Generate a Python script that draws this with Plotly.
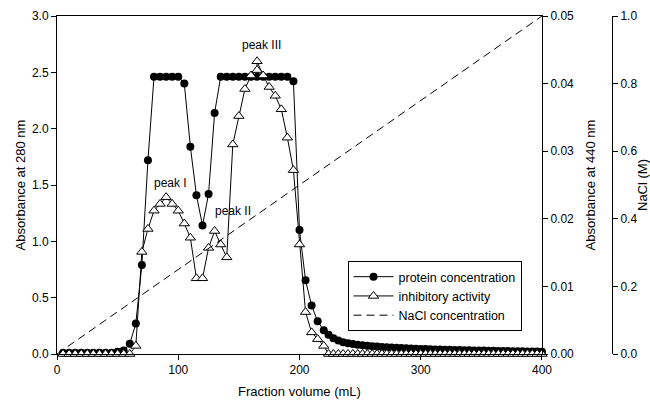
import plotly.graph_objects as go

# ---------------- data ----------------
protein_x = [5, 10, 15, 20, 25, 30, 35, 40, 45, 50, 55, 60, 65, 70, 75, 80, 85, 90, 95, 100,
             105, 110, 115, 120, 125, 130, 135, 140, 145, 150, 155, 160, 165, 170, 175, 180,
             185, 190, 195, 200, 205, 210, 215, 220,
             224, 228, 232, 236, 240, 244, 248, 252, 256, 260, 264, 268, 272, 276, 280, 284,
             288, 292, 296, 300, 304, 308, 312, 316, 320, 324, 328, 332, 336, 340, 344, 348,
             352, 356, 360, 364, 368, 372, 376, 380, 384, 388, 392, 396, 400]
protein_y = [0.01, 0.01, 0.01, 0.01, 0.01, 0.01, 0.01, 0.01, 0.01, 0.02, 0.03, 0.09, 0.27, 0.79,
             1.72, 2.46, 2.46, 2.46, 2.46, 2.46,
             2.40, 1.84, 1.41, 1.14, 1.42, 2.14, 2.46, 2.46, 2.46, 2.46, 2.46, 2.46, 2.46, 2.46,
             2.46, 2.46, 2.46, 2.46, 2.42, 1.10, 0.655, 0.43, 0.29, 0.21,
             0.17, 0.14, 0.12, 0.105, 0.095, 0.088, 0.082, 0.077, 0.073, 0.069, 0.066, 0.063,
             0.060, 0.057, 0.055, 0.053, 0.051, 0.049, 0.047, 0.045, 0.044, 0.042, 0.041, 0.040,
             0.038, 0.037, 0.036, 0.035, 0.034, 0.033, 0.032, 0.031, 0.030, 0.029, 0.028, 0.027,
             0.027, 0.026, 0.025, 0.024, 0.024, 0.023, 0.022, 0.022, 0.021]

inhib_x = [5, 10, 15, 20, 25, 30, 35, 40, 45, 50, 55, 60, 65, 70, 75, 80, 85, 90, 95, 100,
           105, 110, 115, 120, 125, 130, 135, 140, 145, 150, 155, 160, 165, 165, 170, 175, 180,
           185, 190, 195, 200, 205, 210, 215, 220,
           224, 228, 232, 236, 240, 244, 248, 252, 256, 260, 264, 268, 272, 276, 280, 284,
           288, 292, 296, 300, 304, 308, 312, 316, 320, 324, 328, 332, 336, 340, 344, 348,
           352, 356, 360, 364, 368, 372, 376, 380, 384, 388, 392, 396, 400]
inhib_y = [0, 0, 0, 0, 0, 0, 0, 0, 0, 0, 0, 0, 0.0012, 0.0151, 0.0185, 0.0212, 0.0222, 0.0232,
           0.0222, 0.0212, 0.0193, 0.0172, 0.0112, 0.0112, 0.0157, 0.0182, 0.0162, 0.0143,
           0.0310, 0.0352, 0.0392, 0.0412, 0.0420, 0.0433, 0.0412, 0.0395, 0.0382, 0.0362,
           0.0320, 0.0272, 0.0162, 0.0062, 0.0032, 0.0022, 0.0012,
           0, 0, 0, 0, 0, 0, 0, 0, 0, 0, 0, 0, 0, 0, 0, 0, 0, 0, 0, 0, 0, 0, 0, 0, 0, 0, 0,
           0, 0, 0, 0, 0, 0, 0, 0, 0, 0, 0, 0, 0, 0, 0, 0, 0, 0]

nacl_x = [0, 400]
nacl_y = [0.0, 1.0]

peak_labels = ["peak I", "peak II", "peak III"]
peak_x = [94, 145, 169]
peak_y = [1.52, 1.27, 2.74]

x_ticks = [0, 100, 200, 300, 400]

FONT = "Liberation Sans, Arial, sans-serif"

fig = go.Figure()
fig.add_trace(go.Scatter(
    x=protein_x, y=protein_y, name="protein concentration", mode="lines+markers",
    line=dict(color="black", width=1),
    marker=dict(symbol="circle", size=8, color="black"),
    cliponaxis=False, yaxis="y"))
fig.add_trace(go.Scatter(
    x=inhib_x, y=inhib_y, name="inhibitory activity", mode="lines+markers",
    line=dict(color="black", width=1),
    marker=dict(symbol="triangle-up", size=9, color="white", line=dict(color="black", width=1)),
    cliponaxis=False, yaxis="y2"))
fig.add_trace(go.Scatter(
    x=nacl_x, y=nacl_y, name="NaCl concentration", mode="lines",
    line=dict(color="black", width=1, dash="8px,5px"),
    cliponaxis=False, yaxis="y3"))

for t, px, py in zip(peak_labels, peak_x, peak_y):
    fig.add_annotation(x=px, y=py, xref="x", yref="y", text=t, showarrow=False,
                       font=dict(size=12, color="black", family=FONT))

axis_common = dict(showline=True, linecolor="black", linewidth=1, ticks="outside",
                   ticklen=5, tickcolor="black", showgrid=False, zeroline=False,
                   automargin=False,
                   tickfont=dict(size=12, color="black", family=FONT))

fig.update_layout(
    width=650, height=411,
    margin=dict(l=57, r=20, t=16, b=57),
    paper_bgcolor="white", plot_bgcolor="white",
    font=dict(family=FONT, color="black"),
    xaxis=dict(range=[0, 400], domain=[0, 0.8464], tickvals=x_ticks, mirror=True,
               title=dict(text="Fraction volume (mL)", font=dict(size=13), standoff=10),
               **axis_common),
    yaxis=dict(range=[0, 3.0], dtick=0.5, tickformat=".1f",
               title=dict(text="Absorbance at 280 nm", font=dict(size=13), standoff=3),
               **axis_common),
    yaxis2=dict(range=[0, 0.05], dtick=0.01, tickformat=".2f", overlaying="y",
                side="right", anchor="x",
                title=dict(text="Absorbance at 440 nm", font=dict(size=13), standoff=12),
                **axis_common),
    yaxis3=dict(range=[0, 1.0], dtick=0.2, tickformat=".1f", overlaying="y",
                side="right", anchor="free", position=0.9686,
                title=dict(text="NaCl (M)", font=dict(size=13), standoff=3),
                **axis_common),
    legend=dict(x=0.507, y=0.275, xanchor="left", yanchor="top",
                bordercolor="black", borderwidth=1, bgcolor="white", itemwidth=40,
                font=dict(size=12.5, family=FONT), tracegroupgap=0),
    showlegend=True,
)

fig.write_html("out.html", config={"displayModeBar": False},
               post_script="document.body.style.margin='0px';document.body.style.overflow='hidden';")
